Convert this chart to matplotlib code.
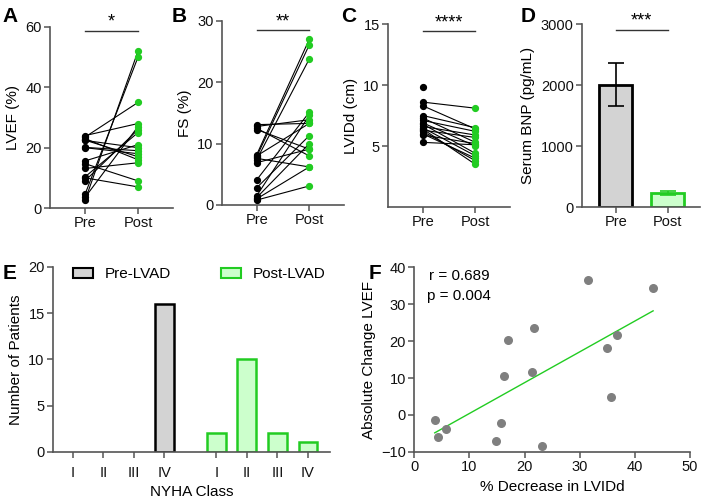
import numpy as np
import matplotlib
matplotlib.use("Agg")
import matplotlib.pyplot as plt
from matplotlib.patches import Patch

plt.rcParams['font.family'] = ['Liberation Sans', 'DejaVu Sans']

# ---- data ----
groups = ["Pre", "Post"]

lvef_pre = [2.5, 4.5, 23.5, 24.0, 3.5, 9.0, 10.3, 15.6, 22.4, 20.1, 20.0, 22.5, 23.0, 13.1, 14.7, 10.0]
lvef_post = [52.0, 50.0, 35.0, 28.0, 27.0, 26.0, 25.0, 21.0, 20.0, 19.0, 18.0, 17.0, 16.0, 15.0, 9.0, 7.0]

fs_pre = [8.2, 7.9, 7.4, 4.1, 1.5, 12.8, 13.1, 8.0, 2.8, 1.2, 12.3, 6.9, 12.5, 7.6, 1.0, 0.8]
fs_post = [27.0, 26.1, 23.8, 15.1, 14.6, 13.9, 13.3, 13.3, 11.3, 10.0, 9.1, 9.1, 8.0, 6.2, 6.2, 3.1]

lvidd_pre = [9.8, 8.6, 8.3, 7.5, 7.3, 7.1, 6.9, 6.8, 6.6, 6.5, 6.3, 6.2, 6.0, 5.9, 5.3, 6.4]
lvidd_post = [np.nan, 8.1, 6.4, 6.5, 5.3, 6.2, 5.0, 4.4, 5.9, 4.2, 5.7, 3.8, 4.0, 5.2, 5.1, 3.5]

bnp_mean = [2010, 225]
bnp_err = [355, 32]

nyha_classes = ["I", "II", "III", "IV"]
nyha_pre = [0, 0, 0, 16]
nyha_post = [2, 10, 2, 1]

f_x = [31.5, 43.3, 21.7, 36.8, 16.9, 34.9, 21.3, 16.2, 35.6, 3.7, 15.8, 5.8, 4.35, 14.9, 23.1]
f_y = [36.6, 34.4, 23.5, 21.8, 20.3, 18.2, 11.7, 10.5, 4.9, -1.5, -2.3, -3.8, -5.9, -7.2, -8.4]

GREEN = '#22CC22'
LIGHTGREEN = '#CCFFCC'
GRAY = '#D3D3D3'
SPINE = '#555555'


def style(ax):
    for s in ['top', 'right']:
        ax.spines[s].set_visible(False)
    for s in ['left', 'bottom']:
        ax.spines[s].set_color(SPINE)
        ax.spines[s].set_linewidth(1.2)
    ax.tick_params(direction='out', length=4, width=1.1, color=SPINE,
                   labelsize=10.5, labelcolor='#111111', pad=2)


def sig(ax, y, stars):
    ax.plot([0, 1], [y, y], color='#333333', lw=1, clip_on=False)
    ax.text(0.5, y, stars, ha='center', va='bottom', fontsize=13, clip_on=False)


def paired(ax, pre, post, ylim, yticks, ylabel, ysig, stars):
    for a, b in zip(pre, post):
        if not np.isnan(b):
            ax.plot([0, 1], [a, b], color='black', lw=0.8, zorder=1)
    ax.plot(np.zeros(len(pre)), pre, 'o', color='black', ms=4.2, zorder=3, clip_on=False)
    ax.plot(np.ones(len(post)), post, 'o', color=GREEN, ms=4.2, zorder=3, clip_on=False)
    ax.set_xlim(-0.66, 1.66)
    ax.set_ylim(*ylim)
    ax.set_yticks(yticks)
    ax.set_xticks([0, 1])
    ax.set_xticklabels(groups)
    ax.set_ylabel(ylabel, fontsize=11)
    style(ax)
    sig(ax, ysig, stars)


fig = plt.figure(figsize=(7.05, 4.98), dpi=100)

axA = fig.add_axes([0.0709, 0.5823, 0.1745, 0.3635])
paired(axA, lvef_pre, lvef_post, (0, 60), [0, 20, 40, 60], 'LVEF (%)', 58.7, '*')

axB = fig.add_axes([0.3149, 0.5884, 0.173, 0.3695])
paired(axB, fs_pre, fs_post, (0, 30), [0, 10, 20, 30], 'FS (%)', 28.5, '**')

axC = fig.add_axes([0.5504, 0.5843, 0.173, 0.3675])
paired(axC, lvidd_pre, lvidd_post, (0, 15), [5, 10, 15], 'LVIDd (cm)', 14.4, '****')

axD = fig.add_axes([0.8255, 0.5843, 0.1674, 0.3669])
axD.bar([0], [bnp_mean[0]], width=0.63, color=GRAY, edgecolor='black', lw=2, zorder=2)
axD.bar([1], [bnp_mean[1]], width=0.63, color=LIGHTGREEN, edgecolor=GREEN, lw=2, zorder=2)
axD.errorbar([0], [bnp_mean[0]], yerr=[bnp_err[0]], color='black', capsize=6, lw=1.2, capthick=1.2, zorder=3)
axD.errorbar([1], [bnp_mean[1]], yerr=[bnp_err[1]], color=GREEN, capsize=6, lw=1.2, capthick=1.2, zorder=3)
axD.set_xlim(-0.65, 1.62)
axD.set_ylim(0, 3000)
axD.set_yticks([0, 1000, 2000, 3000])
axD.set_xticks([0, 1])
axD.set_xticklabels(groups)
axD.set_ylabel('Serum BNP (pg/mL)', fontsize=11)
style(axD)
sig(axD, 2907, '***')

# ---- E ----
axE = fig.add_axes([0.0752, 0.0930, 0.3929, 0.3709])
pos_pre = np.arange(4)
pos_post = np.arange(4) + 4.7
pre_lw = [1.8 if v > 0 else 0 for v in nyha_pre]
axE.bar(pos_pre, nyha_pre, width=0.62, color=GRAY, edgecolor='black', lw=pre_lw)
axE.bar(pos_post, nyha_post, width=0.62, color=LIGHTGREEN, edgecolor=GREEN, lw=1.8)
axE.set_xlim(-0.65, 8.42)
axE.set_ylim(0, 20)
axE.set_yticks([0, 5, 10, 15, 20])
axE.set_xticks(list(pos_pre) + list(pos_post))
axE.set_xticklabels(nyha_classes + nyha_classes)
axE.set_ylabel('Number of Patients', fontsize=11)
axE.set_xlabel('NYHA Class', fontsize=11)
style(axE)
axE.tick_params(axis='x', pad=6)
handles = [Patch(facecolor=GRAY, edgecolor='black', lw=1.5, label='Pre-LVAD'),
           Patch(facecolor=LIGHTGREEN, edgecolor=GREEN, lw=1.5, label='Post-LVAD')]
axE.legend(handles=handles, ncol=2, frameon=False, loc='upper left',
           bbox_to_anchor=(0.072, 1.0), borderaxespad=0, borderpad=0,
           handlelength=1.3, handleheight=0.65, handletextpad=0.75,
           columnspacing=3.3, fontsize=11)

# ---- F ----
axF = fig.add_axes([0.5877, 0.0930, 0.3911, 0.3699])
slope, icpt = np.polyfit(f_x, f_y, 1)
xs = np.array([min(f_x), max(f_x)])
axF.plot(xs, slope * xs + icpt, color=GREEN, lw=1, zorder=1)
axF.scatter(f_x, f_y, s=30, color='#7F7F7F', zorder=2, clip_on=False)
axF.set_xlim(0, 50)
axF.set_ylim(-10, 40)
axF.set_xticks([0, 10, 20, 30, 40, 50])
axF.set_yticks([-10, 0, 10, 20, 30, 40])
axF.set_xlabel('% Decrease in LVIDd', fontsize=11)
axF.set_ylabel('Absolute Change LVEF', fontsize=11)
style(axF)
axF.text(0.055, 0.955, 'r = 0.689', transform=axF.transAxes, fontsize=11, va='center')
axF.text(0.045, 0.845, 'p = 0.004', transform=axF.transAxes, fontsize=11, va='center')

# panel letters
for x, y, s in [(0.004, 0.985, 'A'), (0.244, 0.985, 'B'), (0.484, 0.985, 'C'),
                (0.738, 0.985, 'D'), (0.004, 0.47, 'E'), (0.523, 0.47, 'F')]:
    fig.text(x, y, s, fontsize=15, fontweight='bold', va='top', ha='left')

fig.savefig('out.png', dpi=100)
